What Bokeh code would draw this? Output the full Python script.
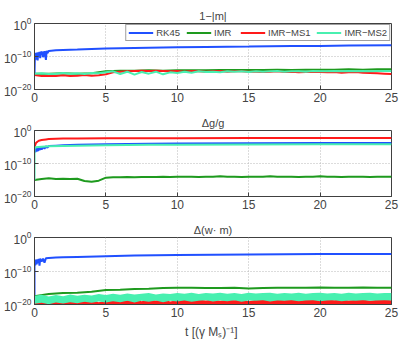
import numpy as np
from bokeh.plotting import figure
from bokeh.layouts import column
from bokeh.models import FixedTicker, Range1d
from bokeh.embed import file_html
from bokeh.resources import INLINE

# ---------------- data (log10 of the plotted quantities) ----------------
T_ONE = [0, 1, 2, 3, 4, 5, 6, 7, 8, 9, 10, 11, 12, 13, 14, 15, 16, 17, 18, 19, 20, 21, 22, 23, 24, 25]
T_HALF = [0, 0.5, 1, 1.5, 2, 2.5, 3, 3.5, 4, 4.5, 5, 5.5, 6, 6.5, 7, 7.5, 8, 8.5, 9, 9.5, 10,
          10.5, 11, 11.5, 12, 12.5, 13, 13.5, 14, 14.5, 15, 15.5, 16, 16.5, 17, 17.5, 18, 18.5, 19, 19.5, 20,
          20.5, 21, 21.5, 22, 22.5, 23, 23.5, 24, 24.5, 25]

series_names = ["RK45", "IMR", "IMR\u2212MS1", "IMR\u2212MS2"]
panel_titles = ["1\u2212|m|", "\u0394g/g", "\u0394(w\u00b7 m)"]
x_ticks = [0, 5, 10, 15, 20, 25]
y_ticks = [1e-20, 1e-10, 1e0]

# panel 1 : 1-|m|
t_rk45_p1 = [0, 0.03, 0.06, 0.1, 0.14, 0.18, 0.22, 0.26, 0.3, 0.35, 0.4, 0.45, 0.5, 0.55, 0.6, 0.7, 0.8,
             0.85, 0.9, 1.0, 1.5, 2, 3, 4, 5, 6, 8, 10, 12, 15, 18, 20, 22, 25]
e_rk45_p1 = [-15.5, -9.2, -11.0, -8.9, -10.8, -8.8, -11.2, -8.7, -10.0, -8.6, -10.5, -8.5, -9.6, -8.5,
             -10.2, -8.4, -11.0, -8.3, -9.0, -8.3, -8.1, -8.0, -7.9, -7.7, -7.6, -7.5, -7.35, -7.2, -7.1,
             -7.0, -6.85, -6.8, -6.7, -6.6]
e_imr_p1 = [-15.2, -15.2, -15.1, -15.2, -15.1, -14.5, -14.3, -14.3, -14.2, -14.3, -14.2, -14.2, -14.2,
            -14.1, -14.1, -14.1, -14.1, -14.0, -14.1, -14.0, -14.0, -14.0, -13.9, -14.0, -13.9, -13.9]
e_ms1_p1 = [-15.6, -15.9, -15.8, -15.9, -15.7, -15.9, -15.8, -15.6, -15.8, -15.7, -15.4,
            -14.8, -14.6, -14.5, -14.4, -14.3, -14.4, -14.3, -14.4, -14.5, -14.4,
            -14.6, -14.4, -14.5, -14.6, -14.5, -14.4, -14.6, -14.5, -14.5, -14.6,
            -14.6, -14.7, -14.6, -14.5, -14.7, -14.6, -14.8, -14.7, -14.6, -14.7,
            -14.8, -14.7, -14.9, -14.8, -14.7, -14.9, -15.0, -15.1, -15.2, -15.3]
e_ms2_p1 = [-15.2, -15.1, -15.3, -15.2, -15.0, -15.2, -15.1, -15.3, -15.0, -15.1, -14.8,
            -14.5, -15.3, -14.6, -15.5, -14.7, -15.2, -14.6, -15.4, -14.8, -15.0,
            -14.6, -14.9, -14.5, -14.7, -14.6, -14.8, -14.5, -14.6, -14.5, -14.7,
            -14.5, -14.6, -14.5, -14.4, -14.6, -14.5, -14.5, -14.6, -14.4, -14.5,
            -14.5, -14.4, -14.5, -14.4, -14.5, -14.4, -14.5, -14.4, -14.4, -14.4]

# panel 2 : dg/g
t_rk45_p2 = [0, 0.05, 0.1, 0.15, 0.2, 0.25, 0.3, 0.35, 0.4, 0.5, 0.6, 0.7, 0.8, 0.9, 1, 1.5, 2, 3, 5,
             8, 10, 15, 20, 25]
e_rk45_p2 = [-5.5, -6.6, -5.4, -6.4, -5.3, -6.2, -5.2, -6.0, -5.0, -5.8, -4.9, -5.5, -4.8, -5.2, -4.7,
             -4.6, -4.5, -4.3, -4.15, -4.0, -3.95, -3.85, -3.8, -3.75]
e_imr_p2 = [-15.0, -14.7, -14.5, -14.7, -14.6, -14.7, -14.6, -15.3, -15.5, -15.2, -14.3,
            -14.2, -14.2, -14.1, -14.2, -14.1, -14.1, -14.1, -14.0, -14.1, -14.0,
            -14.0, -14.0, -14.1, -14.0, -14.0, -13.9, -14.0, -14.0, -14.1, -14.0,
            -14.0, -14.0, -13.9, -14.0, -14.0, -14.0, -14.1, -14.0, -14.0, -13.9,
            -14.0, -14.0, -14.1, -14.0, -14.0, -14.0, -14.1, -14.0, -14.0, -14.0]
t_ms1_p2 = [0, 0.1, 0.2, 0.3, 0.5, 0.8, 1, 1.5, 2, 3, 5, 10, 15, 20, 25]
e_ms1_p2 = [-5.0, -3.8, -3.4, -3.1, -2.9, -2.7, -2.6, -2.5, -2.4, -2.4, -2.35, -2.35, -2.3, -2.3, -2.3]
t_ms2_p2 = [0, 0, 0.05, 0.1, 0.3, 0.5, 1, 2, 3, 5, 8, 10, 15, 20, 25]
e_ms2_p2 = [-15.0, -5.3, -5.2, -5.1, -5.0, -4.9, -4.8, -4.7, -4.6, -4.45, -4.35, -4.3, -4.25, -4.2, -4.15]

# panel 3 : d(w.m)
t_rk45_p3 = [0, 0, 0.05, 0.1, 0.15, 0.2, 0.25, 0.3, 0.35, 0.4, 0.5, 0.6, 0.7, 0.8, 1, 1.5, 2, 3, 5, 7,
             10, 15, 20, 25]
e_rk45_p3 = [-21, -7.0, -8.3, -6.6, -8.0, -6.5, -7.6, -6.4, -8.4, -6.3, -7.2, -6.3, -7.5, -6.2, -6.1,
             -6.0, -5.9, -5.8, -5.6, -5.4, -5.2, -5.05, -4.95, -4.9]
e_imr_p3 = [-17.5, -16.9, -16.6, -16.5, -16.2, -15.7, -15.6, -15.4, -15.3, -15.1, -15.0, -15.0, -15.1,
            -15.1, -15.0, -15.2, -15.1, -15.0, -15.0, -15.0, -14.9, -15.0, -15.0, -14.9, -15.0, -15.0]
e_ms1_p3_hi = [-19.0, -18.8, -19.3, -18.9, -19.4, -18.7, -19.2, -19.0, -18.6, -19.3, -18.9,
               -18.6, -19.1, -18.7, -18.5, -19.0, -18.6, -18.8, -18.4, -19.1, -18.7,
               -18.6, -18.9, -18.5, -18.8, -18.4, -18.9, -18.6, -18.7, -18.5, -19.0,
               -18.6, -18.4, -18.8, -18.5, -18.7, -18.4, -18.9, -18.6, -18.5, -18.8,
               -18.5, -18.7, -18.4, -18.8, -18.6, -18.5, -18.9, -18.6, -18.5, -18.7]
e_ms1_p3_lo = [-20.5] * 51
e_ms2_p3_hi = [-17.4, -17.1, -17.6, -17.2, -17.5, -17.0, -17.4, -17.1, -17.3, -16.9, -17.2,
               -16.8, -17.1, -16.7, -17.0, -16.8, -16.6, -17.0, -16.7, -16.9, -16.6,
               -16.8, -16.5, -16.9, -16.6, -16.7, -16.5, -16.8, -16.6, -16.9, -16.5,
               -16.7, -16.6, -16.5, -16.8, -16.6, -16.7, -16.5, -16.8, -16.6, -16.5,
               -16.7, -16.6, -16.8, -16.5, -16.7, -16.6, -16.5, -16.7, -16.6, -16.6]
e_ms2_p3_lo = [-19.8, -19.5, -19.9, -19.4, -19.7, -19.3, -19.6, -19.2, -19.5, -19.1, -19.4,
               -19.0, -19.3, -18.9, -19.4, -18.9, -19.2, -18.8, -19.3, -18.9, -19.1,
               -18.8, -19.2, -18.9, -18.7, -19.1, -18.8, -19.0, -18.7, -19.2, -18.8,
               -18.9, -18.7, -19.1, -18.8, -18.9, -18.7, -19.0, -18.8, -18.7, -19.0,
               -18.8, -18.7, -19.0, -18.8, -18.9, -18.7, -18.9, -18.8, -18.7, -18.8]

BLUE = "#2050ff"
GREEN = "#1e9a1e"
RED = "#ff1a1a"
CYAN = "#48f0b0"
FONT = "Liberation Sans"
AXC = "#404040"


def pw(e):
    return 10.0 ** np.asarray(e, dtype=float)


def make_fig(title, frame_h, top, bottom, xlabel=None):
    p = figure(output_backend="svg", toolbar_location=None, y_axis_type="log",
               x_range=Range1d(0, 25), y_range=Range1d(1e-20, 1),
               frame_width=357, frame_height=frame_h,
               min_border_left=2, min_border_right=8, min_border_top=top, min_border_bottom=bottom,
               background_fill_color="white", border_fill_color="white")
    p.title.text = title
    p.title.align = "center"
    p.title.text_font = FONT
    p.title.text_font_size = "11px"
    p.title.text_font_style = "normal"
    p.title.standoff = 3
    p.xaxis.ticker = FixedTicker(ticks=x_ticks)
    p.yaxis.ticker = FixedTicker(ticks=y_ticks)
    for ax in (p.xaxis, p.yaxis):
        ax.major_tick_in = 4
        ax.major_tick_out = 0
        ax.minor_tick_line_color = None
        ax.major_label_text_font = FONT
        ax.major_label_text_font_size = "12px"
        ax.major_label_standoff = 3
        ax.axis_line_color = AXC
        ax.major_tick_line_color = AXC
    for g in (p.xgrid, p.ygrid):
        g.grid_line_color = "#b8b8b8"
        g.grid_line_dash = "1 2"
    p.outline_line_color = AXC
    p.outline_line_alpha = 1
    if xlabel:
        p.xaxis.axis_label = xlabel
        p.xaxis.axis_label_text_font = FONT
        p.xaxis.axis_label_text_font_size = "12px"
        p.xaxis.axis_label_text_font_style = "normal"
        p.xaxis.axis_label_standoff = 5
    return p


f1 = make_fig(panel_titles[0], 66, 23, 20)
f1.line(t_rk45_p1, pw(e_rk45_p1), color=BLUE, line_width=2, legend_label=series_names[0])
f1.line(T_ONE, pw(e_imr_p1), color=GREEN, line_width=2, legend_label=series_names[1])
f1.line(T_HALF, pw(e_ms1_p1), color=RED, line_width=2, legend_label=series_names[2])
f1.line(T_HALF, pw(e_ms2_p1), color=CYAN, line_width=2, legend_label=series_names[3])
lg = f1.legend[0]
lg.orientation = "horizontal"
lg.location = "top_right"
lg.margin = 1
lg.padding = 2
lg.spacing = 6
lg.label_text_font = FONT
lg.label_text_font_size = "9.5px"
lg.label_standoff = 3
lg.glyph_width = 25
lg.glyph_height = 9
lg.label_height = 9
lg.border_line_color = AXC
lg.background_fill_alpha = 1

f2 = make_fig(panel_titles[1], 66, 21, 20)
f2.line(t_rk45_p2, pw(e_rk45_p2), color=BLUE, line_width=2)
f2.line(T_HALF, pw(e_imr_p2), color=GREEN, line_width=2)
f2.line(t_ms1_p2, pw(e_ms1_p2), color=RED, line_width=2)
f2.line(t_ms2_p2, pw(e_ms2_p2), color=CYAN, line_width=2)

f3 = make_fig(panel_titles[2], 67, 21, 31, xlabel="t  [(\u03b3 M\u209b)\u207b\u00b9]")
f3.line(t_rk45_p3, pw(e_rk45_p3), color=BLUE, line_width=2)
f3.line(T_ONE, pw(e_imr_p3), color=GREEN, line_width=2)
f3.varea(x=T_HALF, y1=pw(e_ms1_p3_lo), y2=pw(e_ms1_p3_hi), color=RED)
f3.varea(x=T_HALF, y1=pw(e_ms2_p3_lo), y2=pw(e_ms2_p3_hi), color=CYAN)

layout = column(f1, f2, f3, spacing=0)
open("out.html", "w").write(file_html(layout, INLINE))
